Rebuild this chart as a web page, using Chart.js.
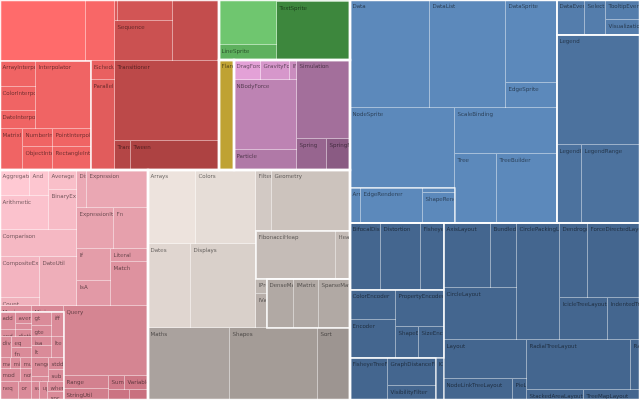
<!DOCTYPE html>
<html>
<head>
<meta charset="utf-8">
<script src="https://cdn.jsdelivr.net/npm/chart.js@4.4.1/dist/chart.umd.min.js"></script>
<style>
  html, body { margin: 0; padding: 0; background: #fff; }
  #wrap { width: 640px; height: 400px; }
</style>
</head>
<body>
<div id="wrap"><canvas id="chart"></canvas></div>
<script>
// flare classes, value = area of the cell
const animateNames = ['Easing', 'FunctionSequence', 'Pause', 'Scheduler', 'Sequence', 'Transition',
  'ArrayInterpolator', 'ColorInterpolator', 'DateInterpolator', 'Interpolator', 'MatrixInterpolator',
  'NumberInterpolator', 'ObjectInterpolator', 'PointInterpolator', 'RectangleInterpolator',
  'ISchedulable', 'Parallel', 'Transitioner', 'TransitionEvent', 'Tween'];
const animateValues = [5246, 1769, 63, 1155, 2320, 2806,
  936, 864, 648, 3740, 943, 540, 690, 684, 874,
  456, 2160, 8320, 464, 2552];

const displayNames = ['DirtySprite', 'LineSprite', 'RectSprite', 'TextSprite'];
const displayValues = [2610, 870, 146, 4234];

const flexNames = ['FlareVis'];
const flexValues = [1650];

const physicsNames = ['DragForce', 'GravityForce', 'IForce', 'NBodyForce', 'Particle', 'Simulation', 'Spring', 'SpringForce'];
const physicsValues = [540, 580, 140, 4410, 1260, 4187, 930, 713];

const queryNames = ['AggregateExpression', 'And', 'Arithmetic', 'Average', 'BinaryExpression', 'Comparison',
  'CompositeExpression', 'Count', 'DateUtil', 'Distinct', 'Expression', 'ExpressionIterator', 'Fn',
  'If', 'IsA', 'Literal', 'Match', 'Maximum', 'Minimum', 'Query', 'Range', 'StringUtil',
  'Sum', 'Variable', 'Variance', 'Xor'];
const queryValues = [780, 494, 1666, 560, 1120, 2079,
  1640, 320, 1813, 380, 2318, 1517, 1394,
  1088, 850, 481, 1628, 192, 192, 5880, 585, 495,
  224, 322, 210, 180];

const methodNames = ['add', 'average', 'count', 'and', 'distinct', 'gt', 'gte', 'iff',
  'div', 'eq', 'fn', 'isa', 'lt', 'lte',
  'max', 'min', 'mul', 'mod', 'not', 'range', 'select', 'stddev', 'sub',
  'neq', 'or', 'sum', 'update', 'where', 'xor'];
const methodValues = [288, 192, 96, 112, 112, 280, 220, 300,
  252, 220, 200, 180, 240, 252,
  121, 110, 121, 273, 143, 323, 85, 180, 180,
  342, 234, 144, 144, 160, 128];

const utilNames = ['Arrays', 'Colors', 'Dates', 'Displays', 'Filter', 'Geometry', 'FibonacciHeap', 'HeapNode',
  'IPredicate', 'IValueProxy', 'DenseMatrix', 'IMatrix', 'SparseMatrix', 'Maths', 'Shapes', 'Sort'];
const utilValues = [3552, 4440, 3612, 5460, 976, 4758, 3840, 672,
  165, 374, 1323, 1225, 1519, 5904, 6336, 2304];

const visDataNames = ['Data', 'DataList', 'DataSprite', 'EdgeSprite', 'NodeSprite', 'ArrowType', 'EdgeRenderer',
  'IRenderer', 'ShapeRenderer', 'ScaleBinding', 'Tree', 'TreeBuilder'];
const visDataValues = [8640, 8208, 4233, 1275, 8400, 385, 2170, 160, 960, 4692, 2898, 4140];

const visEventNames = ['DataEvent', 'SelectionEvent', 'TooltipEvent', 'VisualizationEvent', 'Legend', 'LegendItem', 'LegendRange'];
const visEventValues = [980, 735, 680, 510, 9130, 1950, 4524];

const operatorNames = ['BifocalDistortion', 'Distortion', 'FisheyeDistortion', 'ColorEncoder', 'Encoder',
  'PropertyEncoder', 'ShapeEncoder', 'SizeEncoder', 'FisheyeTreeFilter', 'GraphDistanceFilter',
  'VisibilityFilter', 'IOperator'];
const operatorValues = [2077, 2680, 1541, 1380, 1748, 1776, 713, 775, 1596, 1344, 672, 336];

const layoutNames = ['AxisLayout', 'BundledEdgeRouter', 'CircleLayout', 'CirclePackingLayout', 'DendrogramLayout',
  'ForceDirectedLayout', 'IcicleTreeLayout', 'IndentedTreeLayout', 'Layout', 'NodeLinkTreeLayout', 'PieLayout',
  'RadialTreeLayout', 'RandomLayout', 'StackedAreaLayout', 'TreeMapLayout'];
const layoutValues = [3055, 1690, 3796, 5031, 2100, 3900, 2016, 1344, 3237, 1449, 294, 5200, 450, 570, 560];

// cells whose label falls outside the picture
const hiddenLabels = ['Easing', 'FunctionSequence', 'Pause', 'Scheduler', 'Transition', 'DirtySprite', 'RectSprite', 'Variance', 'Xor'];

const valueOf = {};
[[animateNames, animateValues], [displayNames, displayValues], [flexNames, flexValues],
 [physicsNames, physicsValues], [queryNames, queryValues], [methodNames, methodValues],
 [utilNames, utilValues], [visDataNames, visDataValues], [visEventNames, visEventValues],
 [operatorNames, operatorValues], [layoutNames, layoutValues]]
  .forEach(([n, v]) => n.forEach((name, i) => { valueOf[name] = v[i]; }));

// nesting of the packages: 'h' = side by side, 'v' = stacked
const animate = { pkg: 'animate', node: ['v',
  ['h', 'Easing', 'FunctionSequence', ['v', ['h', 'Pause', 'Scheduler'], 'Sequence'], 'Transition'],
  ['h',
    { pkg: 'interpolate', node: ['v',
      ['h', ['v', 'ArrayInterpolator', 'ColorInterpolator', 'DateInterpolator'], 'Interpolator'],
      ['h', 'MatrixInterpolator', ['v', 'NumberInterpolator', 'ObjectInterpolator'], ['v', 'PointInterpolator', 'RectangleInterpolator']]] },
    ['v', 'ISchedulable', 'Parallel'],
    ['v', 'Transitioner', ['h', 'TransitionEvent', 'Tween']]]] };

const display = { pkg: 'display', node: ['h', ['v', 'DirtySprite', 'LineSprite'], ['v', 'RectSprite', 'TextSprite']] };
const flex = { pkg: 'flex', node: ['h', 'FlareVis'] };
const physics = { pkg: 'physics', node: ['h',
  ['v', ['h', 'DragForce', 'GravityForce', 'IForce'], 'NBodyForce', 'Particle'],
  ['v', 'Simulation', ['h', 'Spring', 'SpringForce']]] };

const methods = { pkg: 'methods', node: ['v',
  ['h', ['v', ['h', 'add', ['v', 'average', 'count']], ['h', 'and', 'distinct']], ['v', 'gt', 'gte'], 'iff'],
  ['h', 'div', ['v', 'eq', 'fn'], ['v', 'isa', 'lt'], 'lte'],
  ['h', ['v', ['h', 'max', 'min', 'mul'], ['h', 'mod', 'not']], ['v', 'range', 'select'], ['v', 'stddev', 'sub']],
  ['h', 'neq', 'or', 'sum', 'update', ['v', 'where', 'xor']]] };

const query = { pkg: 'query', node: ['v',
  ['h',
    ['v',
      ['h', ['v', ['h', 'AggregateExpression', 'And'], 'Arithmetic'], ['v', 'Average', 'BinaryExpression']],
      'Comparison',
      ['h', ['v', 'CompositeExpression', 'Count'], 'DateUtil']],
    ['v', ['h', 'Distinct', 'Expression'], ['h', 'ExpressionIterator', 'Fn'], ['h', ['v', 'If', 'IsA'], ['v', 'Literal', 'Match']]]],
  ['h',
    ['v', ['h', 'Maximum', 'Minimum'], methods],
    ['v', 'Query', ['h', ['v', 'Range', 'StringUtil'], ['v', ['h', 'Sum', 'Variable'], ['h', 'Variance', 'Xor']]]]]] };

const util = { pkg: 'util', node: ['v',
  ['h',
    ['v', ['h', 'Arrays', 'Colors'], ['h', 'Dates', 'Displays']],
    ['v', ['h', 'Filter', 'Geometry'],
      { pkg: 'heap', node: ['h', 'FibonacciHeap', 'HeapNode'] },
      ['h', ['v', 'IPredicate', 'IValueProxy'], { pkg: 'math', node: ['h', 'DenseMatrix', 'IMatrix', 'SparseMatrix'] }]]],
  ['h', 'Maths', 'Shapes', 'Sort']] };

const vis = { pkg: 'vis', node: ['v',
  ['h',
    { pkg: 'data', node: ['v',
      ['h', 'Data', 'DataList', ['v', 'DataSprite', 'EdgeSprite']],
      ['h',
        ['v', 'NodeSprite', { pkg: 'render', node: ['h', 'ArrowType', 'EdgeRenderer', ['v', 'IRenderer', 'ShapeRenderer']] }],
        ['v', 'ScaleBinding', ['h', 'Tree', 'TreeBuilder']]]] },
    ['v',
      { pkg: 'events', node: ['h', 'DataEvent', 'SelectionEvent', ['v', 'TooltipEvent', 'VisualizationEvent']] },
      { pkg: 'legend', node: ['v', 'Legend', ['h', 'LegendItem', 'LegendRange']] }]],
  { pkg: 'operator', node: ['h',
    ['v',
      { pkg: 'distortion', node: ['h', 'BifocalDistortion', 'Distortion', 'FisheyeDistortion'] },
      { pkg: 'encoder', node: ['h', ['v', 'ColorEncoder', 'Encoder'], ['v', 'PropertyEncoder', ['h', 'ShapeEncoder', 'SizeEncoder']]] },
      ['h', { pkg: 'filter', node: ['h', 'FisheyeTreeFilter', ['v', 'GraphDistanceFilter', 'VisibilityFilter']] }, 'IOperator']],
    { pkg: 'layout', node: ['v',
      ['h',
        ['v', ['h', 'AxisLayout', 'BundledEdgeRouter'], 'CircleLayout'],
        'CirclePackingLayout',
        ['v', ['h', 'DendrogramLayout', 'ForceDirectedLayout'], ['h', 'IcicleTreeLayout', 'IndentedTreeLayout']]],
      ['h',
        ['v', 'Layout', ['h', 'NodeLinkTreeLayout', 'PieLayout']],
        ['v', ['h', 'RadialTreeLayout', 'RandomLayout'], ['h', 'StackedAreaLayout', 'TreeMapLayout']]]] }] }] };

const root = ['h',
  ['v',
    ['h', animate, ['v', display, ['h', flex, physics]]],
    ['h', query, util]],
  vis];

const pkgColors = {
  animate: ['#ff6b6b', '#ad4242'],
  display: ['#6fc66f', '#3d873d'],
  flex: ['#bfa233', '#bfa233'],
  physics: ['#e3a1d7', '#8a5b83'],
  query: ['#ffc9d3', '#c9707f'],
  util: ['#ede3dd', '#9d9591'],
  vis: ['#5c89bb', '#44668f']
};

function total(node) {
  if (typeof node === 'string') return valueOf[node];
  if (node.pkg) return total(node.node);
  return node.slice(1).reduce((s, k) => s + total(k), 0);
}

function directKids(node, out) {
  if (typeof node === 'string') out.push(node);
  else if (node.pkg) out.push(node.pkg);
  else node.slice(1).forEach(k => directKids(k, out));
  return out;
}

function hexToRgb(h) {
  return [1, 3, 5].map(i => parseInt(h.slice(i, i + 2), 16));
}
function mix(a, b, t) {
  const p = hexToRgb(a), q = hexToRgb(b);
  return 'rgb(' + p.map((v, i) => Math.round(v + (q[i] - v) * t)).join(',') + ')';
}

const cells = [];
const boxes = [];

function place(node, r, ctxInfo, depth) {
  if (typeof node === 'string') {
    cells.push({ name: node, ...r, top: ctxInfo.top, kid: ctxInfo.kid || node, order: ctxInfo.order });
    return;
  }
  if (node.pkg) {
    let info;
    if (!ctxInfo) {
      const order = directKids(node.node, []).sort((a, b) => a.toLowerCase().localeCompare(b.toLowerCase()));
      info = { top: node.pkg, order, kid: null };
    } else {
      info = { ...ctxInfo, kid: ctxInfo.kid || node.pkg };
    }
    boxes.push({ ...r, depth: depth + 1 });
    place(node.node, r, info, depth + 1);
    return;
  }
  const kids = node.slice(1);
  const sum = kids.reduce((s, k) => s + total(k), 0);
  let pos = node[0] === 'h' ? r.x0 : r.y0;
  kids.forEach(k => {
    const share = total(k) / sum;
    if (node[0] === 'h') {
      const w = (r.x1 - r.x0) * share;
      place(k, { x0: pos, x1: pos + w, y0: r.y0, y1: r.y1 }, ctxInfo, depth);
      pos += w;
    } else {
      const h = (r.y1 - r.y0) * share;
      place(k, { x0: r.x0, x1: r.x1, y0: pos, y1: pos + h }, ctxInfo, depth);
      pos += h;
    }
  });
}

const spanX = 640, spanY = 400;
place(root, { x0: 0, x1: spanX, y0: 0, y1: spanY }, null, 0);

cells.forEach(c => {
  const cols = pkgColors[c.top];
  const n = c.order.length;
  const t = n > 1 ? c.order.indexOf(c.kid) / (n - 1) : 0;
  c.color = mix(cols[0], cols[1], t);
});

const treemapPlugin = {
  id: 'treemapCells',
  afterDatasetsDraw(chart) {
    const { ctx, scales: { x, y } } = chart;
    const rect = c => {
      const x0 = x.getPixelForValue(c.x0), x1 = x.getPixelForValue(c.x1);
      const y0 = y.getPixelForValue(c.y0), y1 = y.getPixelForValue(c.y1);
      return { x0, y0, w: x1 - x0, h: y1 - y0 };
    };
    ctx.save();
    cells.forEach(c => {
      const r = rect(c);
      ctx.fillStyle = c.color;
      ctx.fillRect(r.x0, r.y0, r.w, r.h);
      ctx.fillStyle = 'rgba(255,255,255,0.45)';
      ctx.fillRect(r.x0 + r.w - 1, r.y0, 1, r.h);
      ctx.fillRect(r.x0, r.y0 + r.h - 1, r.w, 1);
    });
    boxes.forEach(b => {
      const r = rect(b);
      ctx.strokeStyle = b.depth === 1 ? 'rgba(255,255,255,0.9)' : 'rgba(255,255,255,0.8)';
      ctx.lineWidth = b.depth === 1 ? 2.5 : (b.depth === 2 ? 1.8 : 1.4);
      ctx.strokeRect(r.x0, r.y0, r.w, r.h);
    });
    ctx.font = '5.5px "DejaVu Sans"';
    ctx.textBaseline = 'middle';
    ctx.fillStyle = 'rgba(0,0,0,0.55)';
    cells.forEach(c => {
      if (hiddenLabels.includes(c.name)) return;
      const r = rect(c);
      ctx.save();
      ctx.beginPath();
      ctx.rect(r.x0, r.y0, r.w - 1, r.h - 1);
      ctx.clip();
      ctx.fillText(c.name, r.x0 + 2.5, r.y0 + 6.5);
      ctx.restore();
    });
    ctx.restore();
  }
};

new Chart(document.getElementById('chart'), {
  type: 'scatter',
  data: {
    datasets: [{
      data: cells.map(c => ({ x: (c.x0 + c.x1) / 2, y: (c.y0 + c.y1) / 2 })),
      pointRadius: 0
    }]
  },
  options: {
    responsive: true,
    maintainAspectRatio: false,
    animation: false,
    layout: { padding: 0 },
    plugins: { legend: { display: false }, tooltip: { enabled: false } },
    scales: {
      x: { type: 'linear', min: 0, max: spanX, display: false },
      y: { type: 'linear', min: 0, max: spanY, reverse: true, display: false }
    }
  },
  plugins: [treemapPlugin]
});
</script>
</body>
</html>
